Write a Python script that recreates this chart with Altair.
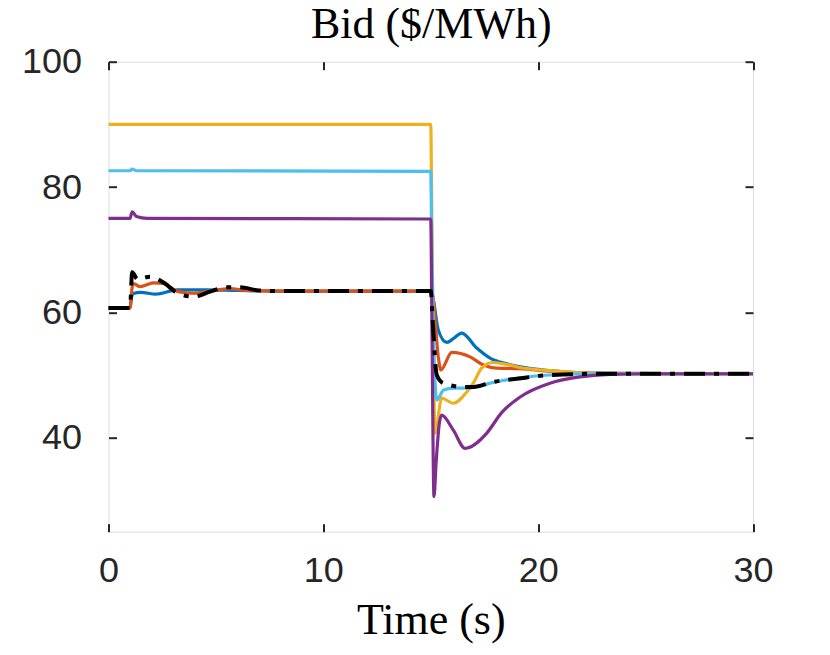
import altair as alt
import pandas as pd

X_TICKS = [0, 10, 20, 30]
Y_TICKS = [40, 60, 80, 100]

T_BLUE = [0, 1.0, 1.08, 1.16, 1.5, 2.2, 3.2, 4.5, 6.0, 8.0, 15.0, 15.12, 15.35, 15.75, 16.05, 16.44, 17.14, 17.76, 18.54, 19.16, 20.55, 22.1, 24.0, 26.0, 30.0]
V_BLUE = [60.7, 60.7, 62.5, 63.0, 63.2, 62.9, 63.6, 63.6, 63.5, 63.4, 63.4, 62.0, 57.2, 55.2, 55.8, 56.7, 54.3, 52.7, 51.8, 51.3, 50.7, 50.35, 50.25, 50.2, 50.2]

T_ORANGE = [0, 1.0, 1.1, 1.16, 1.47, 2.09, 2.55, 3.25, 3.95, 4.57, 5.66, 6.43, 8.0, 15.0, 15.1, 15.35, 15.47, 15.98, 16.83, 17.45, 18.07, 19.16, 20.55, 22.1, 24.0, 30.0]
V_ORANGE = [60.7, 60.7, 64.0, 64.6, 64.1, 64.7, 64.6, 63.3, 63.05, 63.3, 63.8, 63.5, 63.4, 63.4, 62.5, 52.9, 50.8, 53.6, 52.9, 51.6, 51.1, 51.0, 50.6, 50.3, 50.2, 50.2]

T_YELLOW = [0, 15.0, 15.05, 15.2, 15.51, 16.05, 16.68, 16.98, 17.37, 17.88, 18.54, 19.16, 20.55, 22.1, 24.0, 30.0]
V_YELLOW = [90.0, 90.0, 75.0, 40.7, 46.3, 45.5, 47.3, 48.7, 51.1, 52.0, 51.7, 51.2, 50.7, 50.35, 50.25, 50.2]

T_LBLUE = [0, 1.0, 1.1, 1.3, 15.0, 15.05, 15.28, 15.6, 16.05, 16.7, 17.2, 17.9, 18.7, 20.55, 22.9, 30.0]
V_LBLUE = [82.6, 82.6, 82.85, 82.6, 82.5, 70.0, 46.0, 47.6, 47.9, 47.9, 48.2, 48.8, 49.3, 50.0, 50.2, 50.2]

T_PURPLE = [0, 1.0, 1.1, 1.3, 1.8, 15.0, 15.05, 15.15, 15.25, 15.4, 15.51, 16.05, 16.6, 17.6, 18.3, 19.16, 20.55, 21.95, 23.35, 25.0, 30.0]
V_PURPLE = [75.0, 75.0, 76.05, 75.3, 75.0, 74.9, 60.0, 30.6, 36.0, 42.3, 43.6, 41.2, 38.3, 40.7, 44.0, 46.5, 48.7, 49.7, 50.1, 50.2, 50.2]

T_BLACK = [0, 1.0, 1.1, 1.35, 1.93, 2.63, 3.1, 3.95, 4.73, 5.5, 6.12, 7.0, 8.0, 15.0, 15.1, 15.28, 15.59, 16.52, 16.98, 17.91, 19.0, 20.55, 22.9, 30.0]
V_BLACK = [60.7, 60.7, 66.4, 65.3, 65.7, 64.6, 63.3, 62.5, 63.3, 64.0, 64.0, 63.5, 63.4, 63.4, 58.0, 50.0, 48.7, 48.1, 48.1, 48.9, 49.4, 50.0, 50.2, 50.2]

SERIES = [
    ("blue", "#0072BD", T_BLUE, V_BLUE),
    ("orange", "#D95319", T_ORANGE, V_ORANGE),
    ("yellow", "#EDB120", T_YELLOW, V_YELLOW),
    ("lightblue", "#4DBEEE", T_LBLUE, V_LBLUE),
    ("purple", "#7E2F8E", T_PURPLE, V_PURPLE),
    ("black", "#000000", T_BLACK, V_BLACK),
]

AX = "#262626"
xscale = alt.Scale(domain=[0, 30], nice=False, zero=False)
yscale = alt.Scale(domain=[25, 100], nice=False, zero=False)

tick_common = dict(domain=False, grid=False, ticks=True, tickSize=8, tickWidth=2,
                   tickColor=AX, offset=-8, labelFlush=False)

x_bottom = alt.Axis(orient="bottom", values=X_TICKS, labelFont="Liberation Sans",
                    labelFontSize=36, labelColor=AX, labelPadding=22,
                    title="Time (s)", titleFont="Liberation Serif", titleFontSize=44,
                    titleFontWeight="normal", titleColor="#000000", titlePadding=10,
                    **tick_common)
y_left = alt.Axis(orient="left", values=Y_TICKS, labelFont="Liberation Sans",
                  labelFontSize=36, labelColor=AX, labelPadding=27, title="",
                  **tick_common)
x_top = alt.Axis(orient="top", values=X_TICKS, labels=False,
                 title="Bid ($/MWh)", titleFont="Liberation Serif", titleFontSize=44,
                 titleFontWeight="normal", titleColor="#000000", titlePadding=23,
                 titleBaseline="alphabetic", **tick_common)
y_right = alt.Axis(orient="right", values=Y_TICKS, labels=False, title="", **tick_common)

layers = []
for i, (name, color, ts, vs) in enumerate(SERIES):
    df = pd.DataFrame({"t": ts, "v": vs, "k": list(range(len(ts)))})
    if i == 0:
        xa, ya = x_bottom, y_left
    elif i == 1:
        xa, ya = x_top, y_right
    else:
        xa, ya = None, None
    if name == "black":
        mk = alt.Chart(df).mark_line(color=color, strokeWidth=4, interpolate="monotone",
                                     strokeDash=[21, 9, 5, 9], strokeCap="butt")
    else:
        mk = alt.Chart(df).mark_line(color=color, strokeWidth=3.2, interpolate="monotone",
                                     strokeJoin="round")
    layers.append(mk.encode(
        x=alt.X("t:Q", scale=xscale, axis=xa),
        y=alt.Y("v:Q", scale=yscale, axis=ya),
        order="k:Q",
    ))

chart = alt.layer(*layers).properties(
    width=644.5,
    height=470,
    autosize=alt.AutoSizeParams(type="none"),
    padding={"left": 100.5, "top": 53.7, "right": 60, "bottom": 113},
).configure_view(stroke=AX, strokeWidth=2.5).configure(background="white")

chart.save("out.html", embed_options={"renderer": "svg", "actions": False})
